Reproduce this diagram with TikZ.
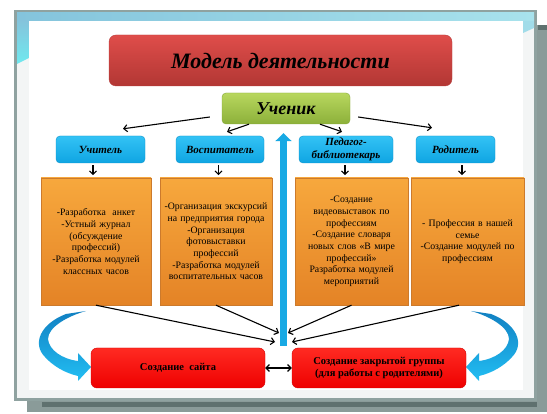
\documentclass[tikz,border=0pt]{standalone}
\usepackage{fontspec}
\setmainfont{Liberation Serif}
\usetikzlibrary{arrows.meta}

\definecolor{framegray}{HTML}{8FA2A0}
\definecolor{shadowgray}{HTML}{8A9B99}
\definecolor{stripgray}{HTML}{5F716F}
\definecolor{panelgray}{HTML}{F3F5F5}
\definecolor{bandblue}{HTML}{84C4DC}
\definecolor{bandcyan}{HTML}{A8E2EC}
\definecolor{leftcyan}{HTML}{6FE9EF}
\definecolor{titletop}{HTML}{DF4D4A}
\definecolor{titlebot}{HTML}{B23734}
\definecolor{titleedge}{HTML}{B84040}
\definecolor{greentop}{HTML}{B8D75E}
\definecolor{greenbot}{HTML}{8CB03A}
\definecolor{greenedge}{HTML}{86A83A}
\definecolor{bluetop}{HTML}{33C2F5}
\definecolor{bluebot}{HTML}{0FA5E2}
\definecolor{blueedge}{HTML}{0E94CC}
\definecolor{orangetop}{HTML}{F7A83D}
\definecolor{orangebot}{HTML}{E48326}
\definecolor{orangeedge}{HTML}{CC7A2C}
\definecolor{redtop}{HTML}{FF2A22}
\definecolor{redbot}{HTML}{EE0000}
\definecolor{rededge}{HTML}{D60000}
\definecolor{upblue}{HTML}{18A9E4}
\definecolor{ribbondark}{HTML}{1180C2}
\definecolor{ribbonlight}{HTML}{22BEF3}

\begin{document}
\begin{tikzpicture}[x=1pt, y=-1pt,
	headbox/.style={rounded corners=7pt, minimum width=343pt, minimum height=51pt,
		top color=titletop, bottom color=titlebot, draw=titleedge,
		font=\bfseries\itshape\fontsize{22}{24}\selectfont},
	pupilbox/.style={rounded corners=4pt, minimum width=128pt, minimum height=31pt,
		top color=greentop, bottom color=greenbot, draw=greenedge,
		font=\bfseries\itshape\fontsize{18}{20}\selectfont},
	rolebox/.style={rounded corners=4pt, minimum height=27pt, inner sep=1pt, align=center,
		top color=bluetop, bottom color=bluebot, draw=blueedge,
		font=\bfseries\itshape\fontsize{11}{13}\selectfont},
	workbox/.style={minimum height=127pt, inner sep=1pt, align=center,
		top color=orangetop, bottom color=orangebot, draw=orangeedge,
		font=\fontsize{9.8}{11.7}\selectfont},
	resultbox/.style={rounded corners=6pt, minimum width=174pt, minimum height=40pt, align=center,
		top color=redtop, bottom color=redbot, draw=rededge,
		font=\bfseries\fontsize{10.5}{12}\selectfont},
	arr/.style={-{Straight Barb[length=3.5pt,width=7pt]}, line width=1.1pt, black},
	duoarr/.style={{Straight Barb[length=3.5pt,width=7pt]}-{Straight Barb[length=3.5pt,width=7pt]}, line width=1.1pt, black},
	uparr/.style={line width=7pt, upblue, -{Triangle[width=16pt,length=8pt]}}]

	\useasboundingbox (0,0) rectangle (547,414);
	\fill[white] (0,0) rectangle (547,414);

	% slide frame
	\fill[shadowgray] (27,25) rectangle (547,412);
	\fill[stripgray] (42,402) rectangle (537,407);
	\fill[stripgray] (538,25) rectangle (547,30);
	\filldraw[fill=panelgray, draw=framegray, line width=3pt] (15.5,11.5) rectangle (535.5,399.5);
	\shade[left color=bandblue, right color=bandcyan] (17,13) rectangle (534,21);
	\shade[top color=bandblue, bottom color=leftcyan] (17,21) -- (29,21) -- (29,58) -- (17,64) -- cycle;
	\fill[white] (29,21) rectangle (523,390);
	\fill[bandcyan!80!bandblue] (523,21) -- (534,21) -- (534,28) -- (523,33) -- cycle;

	% curved arrows
	\shade[top color=ribbondark, bottom color=ribbonlight]
		(66,314) .. controls (40,324) and (32,344) .. (45,357)
		.. controls (53,366) and (65,373) .. (78,376)
		-- (78,381) -- (91,367) -- (78,353) -- (78,361)
		.. controls (62,359) and (49,350) .. (48,339)
		.. controls (48,327) and (68,316) .. (86,311) -- cycle;
	\begin{scope}[xshift=557pt, xscale=-1]
		\shade[top color=ribbondark, bottom color=ribbonlight]
			(66,314) .. controls (40,324) and (32,344) .. (45,357)
			.. controls (53,366) and (65,373) .. (78,376)
			-- (78,381) -- (91,367) -- (78,353) -- (78,361)
			.. controls (62,359) and (49,350) .. (48,339)
			.. controls (48,327) and (68,316) .. (86,311) -- cycle;
	\end{scope}

	\node[headbox]                          (title)     at (280.5,60.5) {Модель деятельности};
	\node[pupilbox]                         (pupil)     at (286,108.5)  {Ученик};

	\node[rolebox, minimum width=89pt]      (teacher)   at (100.5,149.5) {Учитель};
	\node[rolebox, minimum width=88pt]      (tutor)     at (220,149.5)   {Воспитатель};
	\node[rolebox, minimum width=94pt]      (librarian) at (346,149.5)   {Педагог-\\библиотекарь};
	\node[rolebox, minimum width=79pt]      (parent)    at (455.5,149.5) {Родитель};

	\node[workbox, text width=108pt] (work1) at (96,241.5)
		{-Разработка\ \ анкет\\-Устный журнал\\(обсуждение\\профессий)\\-Разработка модулей\\классных часов};
	\node[workbox, text width=110pt] (work2) at (216,241.5)
		{-Организация экскурсий\\на предприятия города\\-Организация\\фотовыставки\\профессий\\-Разработка модулей\\воспитательных часов};
	\node[workbox, text width=111pt] (work3) at (351.5,241.5)
		{-Создание\\видеовыставок по\\профессиям\\-Создание словаря\\новых слов «В мире\\профессий»\\Разработка модулей\\мероприятий};
	\node[workbox, text width=111pt] (work4) at (467.5,241.5)
		{- Профессия в нашей\\семье\\-Создание модулей по\\профессиям};

	\node[resultbox] (site)  at (178,368) {Создание\ \ сайта};
	\node[resultbox] (group) at (379,368) {Создание закрытой группы\\(для работы с родителями)};

	\coordinate (hub) at (283.5,346);
	\coordinate (tipA) at ([xshift=22.5pt,yshift=7pt]teacher.north);
	\coordinate (tipB) at ([xshift=7pt,yshift=4pt]tutor.north);
	\coordinate (tipC) at ([xshift=-4pt,yshift=4pt]librarian.north);
	\coordinate (tipD) at ([xshift=-23.5pt,yshift=8pt]parent.north);

	\draw [uparr, shorten >=9pt] (hub) -- (hub |- pupil.south);

	\path [arr] ([xshift=-12pt,yshift=-8.5pt]pupil.west) edge (tipA);
	\path [arr] ([xshift=-37pt]pupil.south)              edge (tipB);
	\path [arr] ([xshift=34pt]pupil.south)               edge (tipC);
	\path [arr] ([xshift=8pt,yshift=-8.5pt]pupil.east)   edge (tipD);

	\path [arr] ([xshift=-7.5pt,yshift=-2pt]teacher.south)  edge ([xshift=-7.5pt,yshift=-12pt]teacher.south);
	\path [arr] ([xshift=-1.5pt,yshift=-2pt]tutor.south)    edge ([xshift=-1.5pt,yshift=-12pt]tutor.south);
	\path [arr] ([xshift=-1pt,yshift=-2pt]librarian.south)  edge ([xshift=-1pt,yshift=-12pt]librarian.south);
	\path [arr] ([xshift=6.5pt,yshift=-2pt]parent.south)    edge ([xshift=6.5pt,yshift=-12pt]parent.south);

	\path [arr] (work1.south)                 edge ([xshift=-8.5pt,yshift=4pt]hub);
	\path [arr] (work2.south)                 edge ([xshift=-4.5pt,yshift=13pt]hub);
	\path [arr] (work3.south)                 edge ([xshift=4.5pt,yshift=13pt]hub);
	\path [arr] ([xshift=-8.5pt]work4.south)  edge ([xshift=8.5pt,yshift=4pt]hub);

	\path [duoarr] (site) edge (group);
\end{tikzpicture}
\end{document}
